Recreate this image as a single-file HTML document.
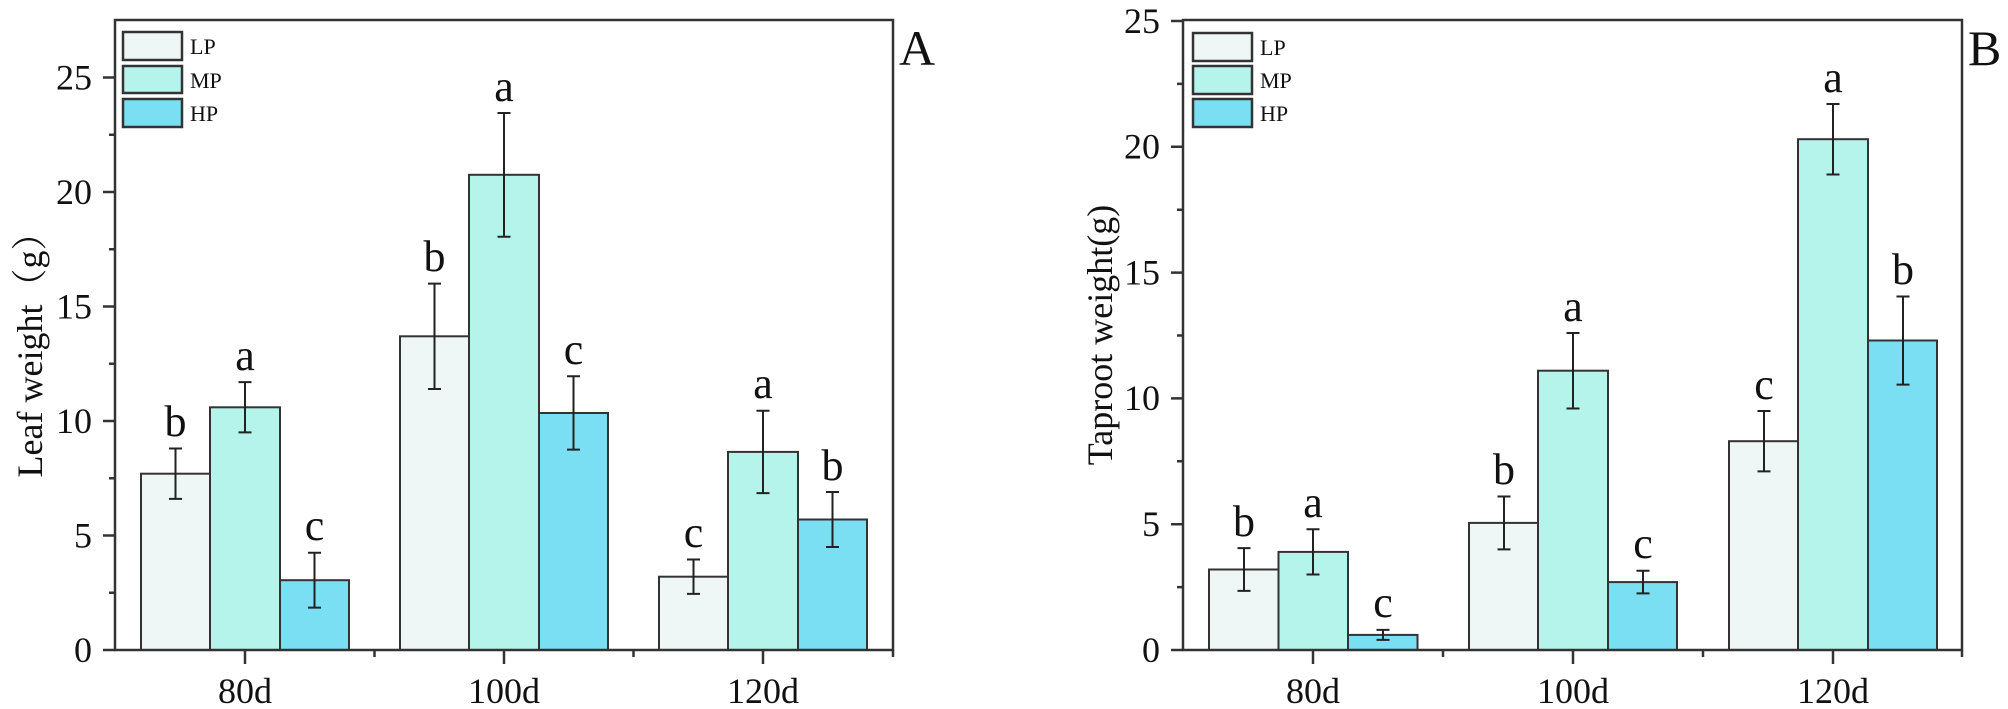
<!DOCTYPE html>
<html><head><meta charset="utf-8"><style>body{margin:0;background:#fff}svg{display:block}text{font-family:"Liberation Serif","Noto Serif CJK SC",serif;fill:#111}</style></head>
<body>
<svg width="2008" height="709" viewBox="0 0 2008 709" xmlns="http://www.w3.org/2000/svg">
<g stroke="#333" stroke-width="2">
<!-- Panel A bars -->
<rect x="141" y="473.7" width="69" height="176.3" fill="#eef7f5"/>
<rect x="210" y="407.3" width="70" height="242.7" fill="#b5f4ea"/>
<rect x="280" y="580.2" width="69" height="69.8" fill="#7adff3"/>
<rect x="400" y="336.3" width="69" height="313.7" fill="#eef7f5"/>
<rect x="469" y="174.8" width="70" height="475.2" fill="#b5f4ea"/>
<rect x="539" y="413" width="69" height="237" fill="#7adff3"/>
<rect x="659" y="576.7" width="69" height="73.3" fill="#eef7f5"/>
<rect x="728" y="451.9" width="70" height="198.1" fill="#b5f4ea"/>
<rect x="798" y="519.5" width="69" height="130.5" fill="#7adff3"/>
<!-- Panel B bars -->
<rect x="1209" y="569.5" width="69.5" height="80.5" fill="#eef7f5"/>
<rect x="1278.5" y="551.9" width="69.5" height="98.1" fill="#b5f4ea"/>
<rect x="1348" y="634.9" width="69.5" height="15.1" fill="#7adff3"/>
<rect x="1469" y="522.9" width="69" height="127.1" fill="#eef7f5"/>
<rect x="1538" y="370.7" width="70" height="279.3" fill="#b5f4ea"/>
<rect x="1608" y="582.1" width="69" height="67.9" fill="#7adff3"/>
<rect x="1729" y="441.2" width="69" height="208.8" fill="#eef7f5"/>
<rect x="1798" y="139.2" width="70" height="510.8" fill="#b5f4ea"/>
<rect x="1868" y="340.5" width="69" height="309.5" fill="#7adff3"/>
</g>
<g stroke="#222" stroke-width="2" fill="none">
<!-- error bars A -->
<path d="M175.5 448.5V498.9M169 448.5h13M169 498.9h13"/>
<path d="M245 382.1V432.4M238.5 382.1h13M238.5 432.4h13"/>
<path d="M314.5 552.7V607.6M308 552.7h13M308 607.6h13"/>
<path d="M434.5 283.6V389M428 283.6h13M428 389h13"/>
<path d="M504 113V236.7M497.5 113h13M497.5 236.7h13"/>
<path d="M573.5 376.3V449.6M567 376.3h13M567 449.6h13"/>
<path d="M693.5 559.5V593.9M687 559.5h13M687 593.9h13"/>
<path d="M763 410.7V493.1M756.5 410.7h13M756.5 493.1h13"/>
<path d="M832.5 492V547M826 492h13M826 547h13"/>
<!-- error bars B -->
<path d="M1244 548.1V590.9M1237.5 548.1h13M1237.5 590.9h13"/>
<path d="M1313 529.2V574.5M1306.5 529.2h13M1306.5 574.5h13"/>
<path d="M1383 629.9V639.9M1376.5 629.9h13M1376.5 639.9h13"/>
<path d="M1504 496.5V549.4M1497.5 496.5h13M1497.5 549.4h13"/>
<path d="M1573 333V408.5M1566.5 333h13M1566.5 408.5h13"/>
<path d="M1643 570.7V593.4M1636.5 570.7h13M1636.5 593.4h13"/>
<path d="M1764 411V471.4M1757.5 411h13M1757.5 471.4h13"/>
<path d="M1833 104V174.5M1826.5 104h13M1826.5 174.5h13"/>
<path d="M1903 296.5V384.6M1896.5 296.5h13M1896.5 384.6h13"/>
</g>
<!-- axes frames -->
<g stroke="#333" stroke-width="2.5" fill="none">
<rect x="115" y="20" width="778" height="630"/>
<rect x="1183" y="20" width="779" height="630"/>
<!-- A y ticks -->
<path d="M103 650H115M103 535.5H115M103 421H115M103 306.5H115M103 192H115M103 77.5H115"/>
<path d="M109 592.75H115M109 478.25H115M109 363.75H115M109 249.25H115M109 134.75H115"/>
<!-- A x ticks -->
<path d="M245 650V664M504 650V664M763 650V664M374.5 650V657M633.5 650V657M893 650V657"/>
<!-- B y ticks -->
<path d="M1171 650H1183M1171 524.2H1183M1171 398.4H1183M1171 272.6H1183M1171 146.8H1183M1171 21H1183"/>
<path d="M1177 587.1H1183M1177 461.3H1183M1177 335.5H1183M1177 209.7H1183M1177 83.9H1183"/>
<path d="M1313 650V664M1573 650V664M1833 650V664M1443 650V657M1703 650V657M1962 650V657"/>
</g>
<!-- tick labels A -->
<g font-size="36" text-anchor="end">
<text x="92" y="662">0</text><text x="92" y="547.5">5</text><text x="92" y="433">10</text>
<text x="92" y="318.5">15</text><text x="92" y="204">20</text><text x="92" y="89.5">25</text>
<text x="1160" y="662">0</text><text x="1160" y="536">5</text><text x="1160" y="410">10</text>
<text x="1160" y="284.5">15</text><text x="1160" y="158.5">20</text><text x="1160" y="33">25</text>
</g>
<g font-size="36" text-anchor="middle">
<text x="245" y="703">80d</text><text x="504" y="703">100d</text><text x="763" y="703">120d</text>
<text x="1313" y="703">80d</text><text x="1573" y="703">100d</text><text x="1833" y="703">120d</text>
</g>
<text font-size="36" text-anchor="middle" transform="translate(42 346) rotate(-90)">Leaf weight（g）</text>
<text font-size="36" text-anchor="middle" transform="translate(1112 335) rotate(-90)">Taproot weight(g)</text>
<text x="899" y="65" font-size="50">A</text>
<text x="1968" y="65" font-size="50">B</text>
<!-- letters -->
<g font-size="44" text-anchor="middle">
<text x="175.5" y="436">b</text><text x="245" y="370">a</text><text x="314.5" y="540">c</text>
<text x="434.5" y="271">b</text><text x="504" y="101">a</text><text x="573.5" y="364">c</text>
<text x="693.5" y="547">c</text><text x="763" y="398">a</text><text x="832.5" y="480">b</text>
<text x="1244" y="536">b</text><text x="1313" y="517">a</text><text x="1383" y="617">c</text>
<text x="1504" y="484">b</text><text x="1573" y="321">a</text><text x="1643" y="558">c</text>
<text x="1764" y="399">c</text><text x="1833" y="92">a</text><text x="1903" y="284">b</text>
</g>
<!-- legends -->
<g stroke="#333" stroke-width="2.5">
<rect x="123" y="32" width="59" height="28" fill="#eef7f5"/>
<rect x="123" y="66" width="59" height="27" fill="#b5f4ea"/>
<rect x="123" y="99" width="59" height="28" fill="#7adff3"/>
<rect x="1193" y="33" width="59" height="28" fill="#eef7f5"/>
<rect x="1193" y="66" width="59" height="28" fill="#b5f4ea"/>
<rect x="1193" y="99" width="59" height="28" fill="#7adff3"/>
</g>
<g font-size="22">
<text x="190" y="54">LP</text><text x="190" y="88">MP</text><text x="190" y="121">HP</text>
<text x="1260" y="55">LP</text><text x="1260" y="88">MP</text><text x="1260" y="121">HP</text>
</g>
</svg>
</body></html>
